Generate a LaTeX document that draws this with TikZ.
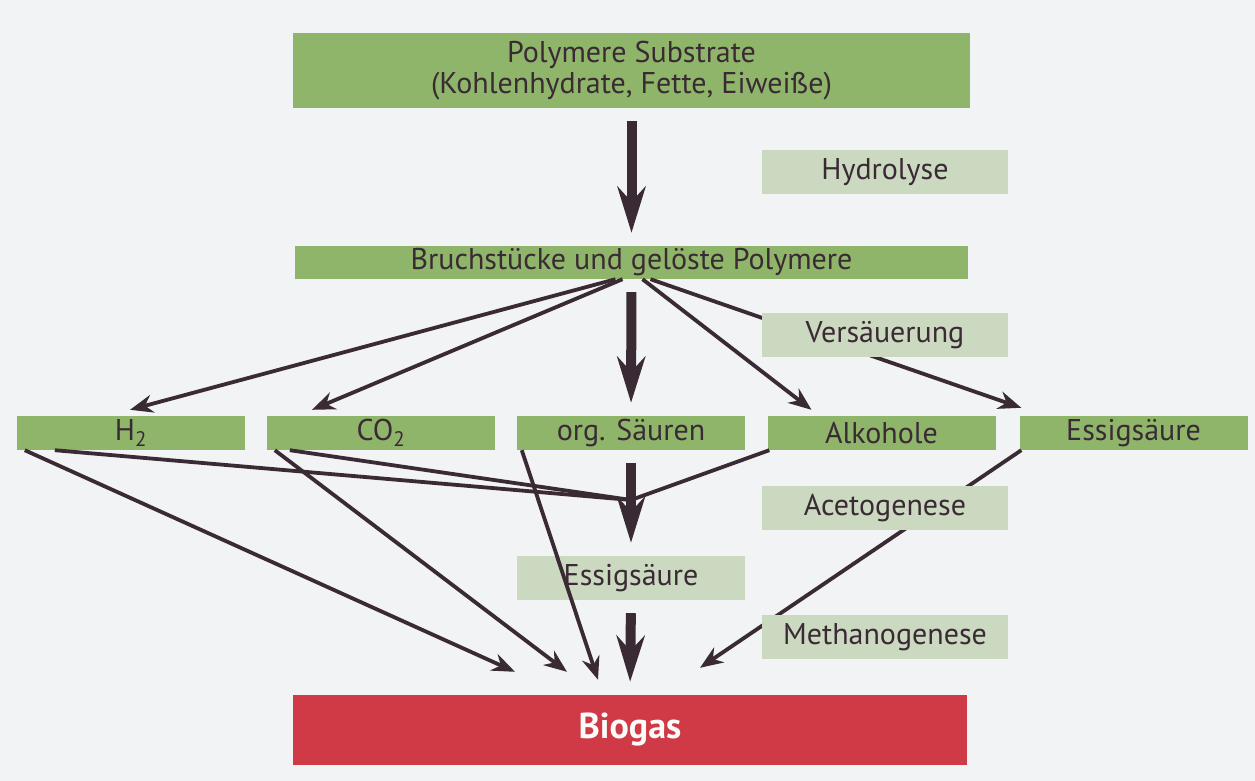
\documentclass[tikz,border=0pt]{standalone}
\usepackage{fontspec}
\setmainfont{PT Sans}
\usetikzlibrary{arrows.meta}
\definecolor{bgcol}{RGB}{242,243,245}
\definecolor{stagegreen}{RGB}{143,181,106}
\definecolor{phasegreen}{RGB}{203,217,192}
\definecolor{gasred}{RGB}{208,58,70}
\definecolor{inkcol}{RGB}{58,42,52}
\begin{document}
\begin{tikzpicture}[x=1pt,y=-1pt,
    stage/.style={fill=stagegreen,text=inkcol,inner sep=0pt,minimum width=228pt,minimum height=34pt,font=\fontsize{30}{31}\selectfont},
    phase/.style={fill=phasegreen,text=inkcol,inner sep=0pt,minimum width=246pt,minimum height=44pt,font=\fontsize{30}{31}\selectfont},
    flow/.style={draw=inkcol,line width=3.8pt,-{Stealth[length=23pt,width=18pt]}},
    link/.style={draw=inkcol,line width=3.8pt},
    main flow/.style={draw=inkcol,line width=10pt,-{Stealth[length=46pt,width=28pt]},shorten <=13pt,shorten >=13pt}]
      \fill[bgcol] (0,0) rectangle (1255,781);
      \node[stage,minimum width=677pt,minimum height=75pt,align=center] (poly) at (631.5,70.5) {Polymere Substrate\\(Kohlenhydrate, Fette, Eiweiße)};
      \node[stage,minimum width=673pt,minimum height=33pt] (bruch) at (631.5,262.5) {Bruchstücke und gelöste Polymere};
      \foreach \nm/\cx/\txt in {h2/131/H\textsubscript{2},co2/381/CO\textsubscript{2},orgs/631/org. Säuren,alk/881.5/Alkohole,essig/1133.5/Essigsäure}
        \node[stage] (\nm) at (\cx,433) {\txt};
      \node[phase,minimum width=228pt] (acid) at (631,578) {Essigsäure};
      \node[fill=gasred,text=white!92!phasegreen,minimum width=674pt,minimum height=70pt,font=\fontsize{36}{40}\selectfont\bfseries] (gas) at (630,730) {Biogas};
      \coordinate (merge) at (631,500);
      \draw[main flow] (poly.south) -- (bruch.north);
      \draw[main flow] (bruch.south) -- (orgs.north);
      \draw[main flow] (orgs.south) -- (acid.north);
      \draw[main flow] (acid.south) -- (gas.north);
      \draw[flow] ([xshift=-16pt]bruch.south) -- ([xshift=-1pt,yshift=6pt]h2.north);
      \draw[flow] ([xshift=-9pt]bruch.south) -- ([xshift=-69pt,yshift=6pt]co2.north);
      \draw[flow] ([xshift=11pt]bruch.south) -- ([xshift=-70pt,yshift=6pt]alk.north);
      \draw[flow] ([xshift=19pt]bruch.south) -- ([xshift=2pt,yshift=8pt]essig.north west);
      \draw[flow] ([xshift=8pt]h2.south west) -- ([xshift=-115pt,yshift=23pt]gas.north);
      \draw[link] ([xshift=38pt]h2.south west) -- (merge);
      \draw[flow] ([xshift=8pt]co2.south west) -- ([xshift=-63pt,yshift=23pt]gas.north);
      \draw[link] ([xshift=23pt]co2.south west) -- (merge);
      \draw[flow] ([xshift=5pt]orgs.south west) -- ([xshift=-32pt,yshift=15pt]gas.north);
      \draw[link] ([xshift=2pt]alk.south west) -- (merge);
      \draw[flow] ([xshift=2pt]essig.south west) -- ([xshift=70pt,yshift=27pt]gas.north);
      \foreach \nm/\cy/\txt in {hydro/172/Hydrolyse,acidif/335/Versäuerung,aceto/508/Acetogenese,methano/637/Methanogenese}
        \node[phase] (\nm) at (885,\cy) {\txt};
    \end{tikzpicture}
\end{document}
